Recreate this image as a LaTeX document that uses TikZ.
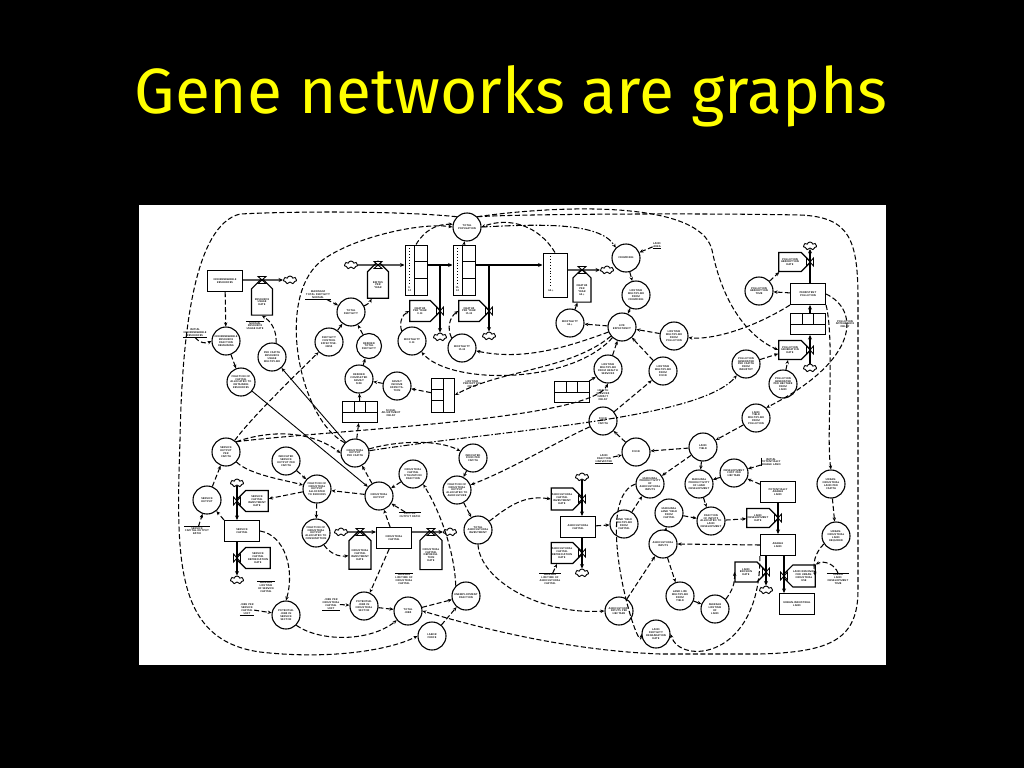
\documentclass[tikz,border=0pt]{standalone}
\usepackage{fontspec}
\newfontfamily\titlefont{Fira Sans}
\usetikzlibrary{shapes.symbols,arrows.meta,calc}
\begin{document}
\begin{tikzpicture}[x=1pt,y=-1pt,
  every node/.style={font=\fontsize{2.6}{2.9}\selectfont\sffamily\bfseries, align=center, inner sep=0.4pt},
  cv/.style={circle, draw, line width=1.1pt, minimum size=28pt, fill=white},
  lv/.style={rectangle, draw, line width=1.1pt, minimum width=35pt, minimum height=21pt, fill=white},
  rte/.style={signal, signal to=east, draw, line width=1.1pt, minimum width=33pt, minimum height=21pt, fill=white},
  rtw/.style={signal, signal to=west, draw, line width=1.1pt, minimum width=33pt, minimum height=21pt, fill=white},
  rtn/.style={signal, signal to=north, draw, line width=1.1pt, minimum width=21pt, minimum height=34pt, fill=white},
  cl/.style={cloud, cloud puffs=7, aspect=1.6, draw, line width=0.9pt, minimum width=13pt, minimum height=8pt, inner sep=0pt, fill=white},
  dl/.style={rectangle, draw, line width=1pt, minimum width=35pt, minimum height=21pt, fill=white, inner sep=0pt,
    path picture={
      \draw[line width=0.9pt] (path picture bounding box.west) -- (path picture bounding box.east);
      \draw[line width=0.9pt] ([xshift=-5.8pt]path picture bounding box.north) -- ([xshift=-5.8pt]path picture bounding box.center);
      \draw[line width=0.9pt] ([xshift=5.8pt]path picture bounding box.north) -- ([xshift=5.8pt]path picture bounding box.center);}},
  pl/.style={rectangle, draw, line width=1pt, minimum width=22pt, minimum height=50pt, fill=white, inner sep=0pt,
    path picture={
      \draw[line width=0.9pt] ([xshift=9pt]path picture bounding box.north west) -- ([xshift=9pt]path picture bounding box.south west);
      \draw[line width=0.9pt] ([xshift=9pt,yshift=-16.7pt]path picture bounding box.north west) -- ([yshift=-16.7pt]path picture bounding box.north east);
      \draw[line width=0.9pt] ([xshift=9pt,yshift=-33.3pt]path picture bounding box.north west) -- ([yshift=-33.3pt]path picture bounding box.north east);
      \draw[dotted, line width=0.9pt] ([xshift=4.5pt,yshift=-3pt]path picture bounding box.north west) -- ([xshift=4.5pt,yshift=11pt]path picture bounding box.south west);}},
  plt/.style={rectangle, draw, line width=1pt, minimum width=24pt, minimum height=44pt, fill=white, inner sep=0pt,
    path picture={
      \draw[dotted, line width=0.9pt] ([xshift=7pt,yshift=-3pt]path picture bounding box.north west) -- ([xshift=7pt,yshift=10pt]path picture bounding box.south west);}},
  lpdb/.style={rectangle, draw, line width=1pt, minimum width=23pt, minimum height=34pt, fill=white, inner sep=0pt,
    path picture={
      \draw[line width=0.9pt] (path picture bounding box.north) -- (path picture bounding box.south);
      \draw[line width=0.9pt] ([yshift=-11.3pt]path picture bounding box.north west) -- ([yshift=-11.3pt]path picture bounding box.north);
      \draw[line width=0.9pt] ([yshift=-22.7pt]path picture bounding box.north west) -- ([yshift=-22.7pt]path picture bounding box.north);}},
  dep/.style={draw, line width=1.05pt, dash pattern=on 5pt off 2.5pt, -{Stealth[length=4pt,width=3.4pt]}},
  ddep/.style={dep, dash pattern=on 6pt off 2pt on 1.5pt off 2pt},
  sdep/.style={draw, line width=0.9pt, -{Stealth[length=4pt,width=3.4pt]}},
  flow/.style={draw, line width=1.2pt, -{Stealth[length=4.5pt,width=4pt]}},
  uline/.style={draw, line width=0.6pt},
  vv/.pic={\draw[line width=0.9pt, fill=white] (-3.5,-4) -- (3.5,4) -- (3.5,-4) -- (-3.5,4) -- cycle;},
  vh/.pic={\draw[line width=0.9pt, fill=white] (-4,-3.5) -- (4,3.5) -- (-4,3.5) -- (4,-3.5) -- cycle;}
]
\useasboundingbox (0,0) rectangle (1024,768);
\fill[black] (0,0) rectangle (1024,768);
\fill[white] (139,205) rectangle (886,665);
\node[font=\titlefont\fontsize{64}{68}\selectfont, text={rgb,255:red,255;green,255;blue,0}, anchor=base, inner sep=0pt] (title) at (511,113) {Gene networks are graphs};

% ---------- resources
\node[lv] (nr) at (225,281) {NONRENEWABLE\\RESOURCES};
\node[rtn] (nrur) at (262,302) {RESOURCE\\USAGE\\RATE};
\node[cl] (cl1) at (290,280) {};
\node (t1) at (255,326) {NORMAL\\RESOURCE\\USAGE RATE};
\node (t2) at (195,333) {INITIAL\\NONRENEWABLE\\RESOURCES};
\node[cv] (c1) at (226,341) {NONRENEWABLE\\RESOURCE\\FRACTION\\REMAINING};
\node[cv] (c2) at (241,382) {FRACTION OF\\CAPITAL\\ALLOCATED TO\\OBTAINING\\RESOURCES};
\node[cv] (c3) at (272,357) {PER CAPITA\\RESOURCE\\USAGE\\MULTIPLIER};

% ---------- population
\node[cl] (clb) at (351,265) {};
\node[rtn, minimum height=32pt] (br) at (378,285) {BIRTHS\\PER\\YEAR};
\node[pl] (p1) at (416,270) {};
\node[pl] (p2) at (464,270) {};
\node[plt] (p3) at (555,275) {};
\node (tp1) at (409.5,289) {0-\\14};
\node (tp2) at (457.5,289) {15-\\44};
\node (tp3) at (551,291) {65+};
\coordinate (j1) at (440,265);
\coordinate (j2) at (489,265);
\node[rte, minimum width=31pt] (dr1) at (420,311) {DEATHS\\PER YEAR\\0-14};
\node[rte, minimum width=31pt] (dr2) at (469,311) {DEATHS\\PER YEAR\\15-44};
\node[cl] (cld1) at (440,337) {};
\node[cl] (cld2) at (489,336) {};
\node[rtn, minimum width=18pt, minimum height=30pt] (dr3) at (582,290) {DEATHS\\PER\\YEAR\\65+};
\node[cl] (cld3) at (607,270) {};
\node (t3) at (318,295) {MAXIMUM\\TOTAL FERTILITY\\NORMAL};
\node[cv] (c4) at (351,312) {TOTAL\\FERTILITY};
\node[cv] (c5) at (329,342) {FERTILITY\\CONTROL\\EFFECTIVE-\\NESS};
\node[cv, minimum size=25pt] (c6) at (369,346) {DESIRED\\TOTAL\\FERTILITY};
\node[cv] (c7) at (359,379) {DESIRED\\COMPLETED\\FAMILY\\SIZE};
\node[cv] (c8) at (397,386) {FAMILY\\INCOME\\EXPECTA-\\TION};
\node[dl] (sad) at (360,412) {};
\node (t4) at (391,413) {SOCIAL\\ADJUSTMENT\\DELAY};
\node[cv] (c9) at (412,341) {MORTALITY\\0-14};
\node[cv] (c10) at (462,348) {MORTALITY\\15-44};
\node[cv] (c11) at (570,323) {MORTALITY\\65+};
\node[cv] (c12) at (467,227) {TOTAL\\POPULATION};
\node[cv] (c13) at (626,258) {CROWDING};
\node (t5) at (657,245) {LAND\\AREA};
\node[cv] (c14) at (636,295) {LIFETIME\\MULTIPLIER\\FROM\\CROWDING};
\node[cv] (c15) at (622,327) {LIFE\\EXPECTANCY};
\node[cv] (c16) at (674,336) {LIFETIME\\MULTIPLIER\\FROM\\POLLUTION};
\node[cv] (c17) at (663,371) {LIFETIME\\MULTIPLIER\\FROM\\FOOD};
\node[cv] (c18) at (608,369) {LIFETIME\\MULTIPLIER\\FROM HEALTH\\SERVICES};
\node[dl] (hsd) at (572,392) {};
\node (t6) at (603,395) {HEALTH\\SERVICES\\IMPACT\\DELAY};
\node[lpdb] (lpd) at (443,395) {};
\node (t7) at (472,384) {LIFETIME\\PERCEPTION\\DELAY};
\node[cv] (c20) at (603,421) {FOOD\\PER\\CAPITA};

% ---------- pollution
\node[cl] (clp1) at (810,246) {};
\node[rte, minimum width=32pt, minimum height=19pt] (pr1) at (790,262) {POLLUTION\\ABSORPTION\\RATE};
\node[cv] (c21) at (759,291) {POLLUTION\\ABSORPTION\\TIME};
\node[lv] (pol) at (808,294) {PERSISTENT\\POLLUTION};
\node[dl] (pad) at (808,324) {};
\node (t8) at (845,324) {POLLUTION\\APPEARANCE\\DELAY};
\node[rte, minimum width=32pt, minimum height=19pt] (pr2) at (790,350) {POLLUTION\\GENERATION\\RATE};
\node[cl] (clp2) at (810,368) {};
\node[cv] (c22) at (746,364) {POLLUTION\\GENERATED\\PER CAPITA\\FROM\\INDUSTRY};
\node[cv] (c23) at (783,384) {POLLUTION\\GENERATED\\PER HECTARE\\FROM\\LAND};
\node[cv] (c24) at (756,418) {LAND\\YIELD\\MULTIPLIER\\FROM\\POLLUTION};

% ---------- capital
\node[cv] (c25) at (226,452) {SERVICE\\OUTPUT\\PER\\CAPITA};
\node[cv] (c26) at (286,461) {INDICATED\\SERVICE\\OUTPUT PER\\CAPITA};
\node[cv] (c27) at (355,453) {INDUSTRIAL\\OUTPUT\\PER CAPITA};
\node[cv] (c28) at (317,489) {FRACTION OF\\INDUSTRIAL\\OUTPUT\\ALLOCATED\\TO SERVICES};
\node[cv] (c29) at (379,496) {INDUSTRIAL\\OUTPUT};
\node[cv] (c30) at (207,500) {SERVICE\\OUTPUT};
\node (t9) at (197,531) {SERVICE\\CAPITAL-OUTPUT\\RATIO};
\node[cl] (cls1) at (237,483) {};
\node[rtw] (sci) at (257,501) {SERVICE\\CAPITAL\\INVESTMENT\\RATE};
\node[lv] (sc) at (242,531) {SERVICE\\CAPITAL};
\node[rtw, minimum width=35pt] (scd) at (258,558) {SERVICE\\CAPITAL\\DEPRECIATION\\RATE};
\node[cl] (cls2) at (237,580) {};
\node (t10) at (266,587) {AVERAGE\\LIFETIME\\OF SERVICE\\CAPITAL};
\node (t11) at (247,609) {JOBS PER\\SERVICE\\CAPITAL\\UNIT};
\node[cv] (c31) at (286,615) {POTENTIAL\\JOBS IN\\SERVICE\\SECTOR};
\node[cv] (c32) at (316,533) {FRACTION OF\\INDUSTRIAL\\OUTPUT\\ALLOCATED TO\\CONSUMPTION};
\node[cl] (cli) at (341,532) {};
\node[rtn, minimum width=22pt, minimum height=38pt] (ici) at (360,555) {INDUSTRIAL\\CAPITAL\\INVESTMENT\\RATE};
\node[lv] (ic) at (394,538) {INDUSTRIAL\\CAPITAL};
\node[rtn, minimum width=22pt, minimum height=38pt] (icd) at (431,555) {INDUSTRIAL\\CAPITAL\\DEPRECIA-\\TION\\RATE};
\node[cl] (cli2) at (450,532) {};
\node (t12) at (404,579) {AVERAGE\\LIFETIME OF\\INDUSTRIAL\\CAPITAL};
\node (t13) at (331,604) {JOBS PER\\INDUSTRIAL\\CAPITAL\\UNIT};
\node[cv] (c33) at (364,606) {POTENTIAL\\JOBS IN\\INDUSTRIAL\\SECTOR};
\node[cv] (c34) at (408,611) {TOTAL\\JOBS};
\node[cv] (c35) at (432,636) {LABOR\\FORCE};
\node[cv] (c36) at (466,596) {UNEMPLOYMENT\\FRACTION};
\node[cv] (c37) at (413,474) {INDUSTRIAL\\CAPITAL\\UTILIZATION\\FRACTION};
\node (t14) at (410,515) {CAPITAL-\\OUTPUT RATIO};
\node[cv] (c38) at (473,458) {INDICATED\\FOOD PER\\CAPITA};
\node[cv] (c39) at (457,490) {FRACTION OF\\INDUSTRIAL\\OUTPUT\\ALLOCATED TO\\AGRICULTURE};
\node[cv] (c40) at (478,530) {TOTAL\\AGRICULTURAL\\INVESTMENT};

% ---------- agriculture
\node[cl] (cla1) at (582,477) {};
\node[rte, minimum width=32pt, minimum height=22pt] (aci) at (562,499) {AGRICULTURAL\\CAPITAL\\INVESTMENT\\RATE};
\node[lv] (ac) at (578,527) {AGRICULTURAL\\CAPITAL};
\node[rte, minimum width=32pt] (acd) at (562,553) {AGRICULTURAL\\CAPITAL\\DEPRECIATION\\RATE};
\node[cl] (cla2) at (582,573) {};
\node (t15) at (550,579) {AVERAGE\\LIFETIME OF\\AGRICULTURAL\\CAPITAL};
\node[cv] (c41) at (624,524) {LAND YIELD\\MULTIPLIER\\FROM\\CAPITAL};
\node[cv] (c42) at (619,611) {AGRICULTURAL\\INPUTS PER\\HECTARE};
\node (t16) at (604,459) {LAND\\FRACTION\\HARVESTED};
\node[cv] (c19) at (636,452) {FOOD};

% ---------- land
\node[cv] (c43) at (703,447) {LAND\\YIELD};
\node[cv] (c44) at (650,484) {MARGINAL\\PRODUCTIVITY\\OF\\AGRICULTURAL\\INPUTS};
\node[cv] (c45) at (699,484) {MARGINAL\\PRODUCTIVITY\\OF LAND\\DEVELOPMENT};
\node[cv] (c46) at (734,473) {DEVELOPMENT\\COST PER\\HECTARE};
\node (t17) at (771,462) {INITIAL\\POTENTIALLY\\ARABLE LAND};
\node[lv] (pal) at (778,492) {POTENTIALLY\\ARABLE\\LAND};
\node[cv] (c47) at (669,513) {MARGINAL\\LAND YIELD\\FROM\\CAPITAL};
\node[cv] (c48) at (711,521) {FRACTION\\OF INPUTS\\ALLOCATED TO\\LAND\\DEVELOPMENT};
\node[rte, minimum width=32pt, minimum height=19pt] (ldr) at (758,518) {LAND\\DEVELOPMENT\\RATE};
\node[lv] (al) at (778,545) {ARABLE\\LAND};
\node[cv] (c49) at (663,544) {AGRICULTURAL\\INPUTS};
\node[rte, minimum width=32pt, minimum height=20pt] (ler) at (746,572) {LAND\\EROSION\\RATE};
\node[cl] (cll) at (766,590) {};
\node[rtw, minimum width=33pt, minimum height=22pt] (lrur) at (804,576) {LAND REMOVAL\\FOR URBAN-\\INDUSTRIAL\\USE};
\node[lv] (uil) at (797,604) {URBAN-INDUSTRIAL\\LAND};
\node[cv] (c50) at (831,484) {URBAN-\\INDUSTRIAL\\LAND PER\\CAPITA};
\node[cv] (c51) at (836,536) {URBAN-\\INDUSTRIAL\\LAND\\REQUIRED};
\node (t18) at (838,579) {URBAN\\LAND\\DEVELOPMENT\\TIME};
\node[cv] (c52) at (680,596) {LAND LIFE\\MULTIPLIER\\FROM\\YIELD};
\node[cv] (c53) at (715,609) {AVERAGE\\LIFETIME\\OF\\LAND};
\node[cv] (c54) at (656,634) {LAND\\FERTILITY\\DEGRADATION\\RATE};

% ---------- text rules
\draw[uline] (t1.north west) -- (t1.north east);
\draw[uline] (t2.south west) -- (t2.south east);
\draw[uline] (t3.south west) -- (t3.south east);
\draw[uline] (t5.south west) -- (t5.south east);
\draw[uline] (t9.north west) -- (t9.north east);
\draw[uline] (t10.north west) -- (t10.north east);
\draw[uline] (t11.south west) -- (t11.south east);
\draw[uline] (t12.north west) -- (t12.north east);
\draw[uline] (t13.south west) -- (t13.south east);
\draw[uline] (t14.north west) -- (t14.north east);
\draw[uline] (t15.north west) -- (t15.north east);
\draw[uline] (t16.south west) -- (t16.south east);
\draw[uline] (t17.north west) -- (t17.south west);
\draw[uline] (t18.north west) -- (t18.north east);

% ---------- flows
\draw[flow] (nr.east |- cl1) -- (cl1);
\draw[flow] (clb) -- (p1.west |- clb);
\draw[flow] (p1.east |- clb) -- (p2.west |- clb);
\draw[flow] (p2.east |- clb) -- (p3.west |- clb);
\draw[flow] (p3.east |- cld3) -- (cld3);
\draw[flow] (j1) -- (cld1);
\draw[flow] (j2) -- (cld2);
\draw[flow] (clp2) -- (clp2 |- pad.south);
\draw[flow] (clp2 |- pad.north) -- (clp2 |- pol.south);
\draw[flow] (clp2 |- pol.north) -- (clp1);
\draw[flow] (cls1) -- (cls1 |- sc.north);
\draw[flow] (cls2 |- sc.south) -- (cls2);
\draw[flow] (cli) -- (ic.west |- cli);
\draw[flow] (ic.east |- cli) -- (cli2);
\draw[flow] (cla1) -- (cla1 |- ac.north);
\draw[flow] (cla2 |- ac.south) -- (cla2);
\draw[flow] (pal) -- (al);
\draw[flow] ([xshift=-12pt]al.south) -- (cll);
\draw[flow] ([xshift=6pt]al.south) -- ([xshift=6pt]al.south |- uil.north);

% ---------- resources links
\draw[dep] (nr) -- (c1);
\draw[dep] (t2.south) to[bend right=40] (c1.west);
\draw[dep] (c1) -- (c2);
\draw[dep] (c3) to[bend right=30] (nrur.south);
\draw[sdep] (c2) -- (c29);
\draw[sdep] (c27) -- (c3);
\draw[dep] (c25) .. controls (250,420) and (280,390) .. (c5);

% ---------- population links
\draw[dep] (t3) -- (c4);
\draw[dep] (c5) -- (c4);
\draw[dep] (c6) -- (c4);
\draw[dep] (c7) -- (c6);
\draw[dep] (c8) -- (c7);
\draw[dep] (sad) -- (c7);
\draw[dep] (c27) -- (sad);
\draw[dep] (c4) to[bend right=20] (br);
\draw[dep] (c9) to[bend left=40] (dr1.west);
\draw[dep] (c10) to[bend left=40] (dr2.west);
\draw[dep] (c11) -- (dr3);
\draw[dep] (c15) -- (c11);
\draw[dep] (c15) .. controls (560,350) and (520,360) .. (c10);
\draw[dep] (c15) .. controls (570,385) and (450,385) .. (c9);
\draw[dep] (c15) .. controls (570,370) and (500,370) .. (lpd.east);
\draw[dep] (lpd) -- (c8);
\draw[dep] (c13) -- (c14);
\draw[dep] (c14) -- (c15);
\draw[dep] (c16) -- (c15);
\draw[dep] (c17) -- (c15);
\draw[dep] (c18) -- (c15);
\draw[dep] (hsd) -- (c18);
\draw[dep] (c20) -- (c17);
\draw[dep] (t5) -- (c13);
\draw[dep] (p1.north) to[bend left=30] (c12);
\draw[dep] (p2.north) -- (c12);
\draw[dep] (p3.north) to[bend right=40] (c12.east);
\draw[ddep] (c12.east) .. controls (540,224) and (600,222) .. (c13.north west);
\draw[dep] (c27.north west) .. controls (300,420) and (275,300) .. (320,262) .. controls (350,238) and (420,222) .. (c12.west);
\draw[dep] (c25.north east) .. controls (330,430) and (590,420) .. (c18.south);

% ---------- outer loops
\draw[dep] (c12.north west) .. controls (400,211) and (300,211) .. (240,214) .. controls (195,225) and (182,330) .. (180,440) .. controls (176,560) and (175,640) .. (260,652) .. controls (330,660) and (390,650) .. (c35.west);
\draw[dep] (c12.north east) .. controls (520,214) and (700,213) .. (800,215) .. controls (850,217) and (858,240) .. (858,300) -- (858,590) .. controls (858,640) and (830,652) .. (760,654) -- (660,654) .. controls (560,650) and (470,625) .. (c34.east);
\draw[dep] (c12.north east) .. controls (560,205) and (700,200) .. (712,250) .. controls (722,300) and (745,335) .. (pr2.west);

% ---------- pollution links
\draw[dep] (pol) -- (c21);
\draw[dep] (c21) -- (pr1);
\draw[dep] (c22) -- (pr2);
\draw[dep] (c23) -- (pr2);
\draw[dep] (pol.south west) .. controls (750,330) and (710,340) .. (c16);
\draw[dep] (pol.east) .. controls (860,310) and (860,360) .. (c24.north east);
\draw[dep] (pol.south east) .. controls (835,340) and (826,440) .. (c50.north);
\draw[dep] (c24) -- (c43);
\draw[ddep] (c27) .. controls (500,430) and (700,420) .. (c22);

% ---------- capital links
\draw[dep] (c30) -- (c25);
\draw[dep] (t9) -- (c30);
\draw[dep] (sc.north west) -- (c30);
\draw[dep] (c26) -- (c28);
\draw[dep] (c25) .. controls (250,475) and (285,480) .. (c28);
\draw[dep] (c28) -- (sci);
\draw[dep] (c25.north east) .. controls (270,430) and (310,430) .. (c27.west);
\draw[dep] (c29) -- (c27);
\draw[dep] (c29) -- (c28);
\draw[dep] (ic) -- (c29);
\draw[dep] (c37) -- (c29);
\draw[dep] (t14) -- (c29);
\draw[dep] (c28) -- (c32);
\draw[dep] (c32) to[bend right=30] (ici);
\draw[dep] (sc.east) .. controls (285,535) and (295,570) .. (c31.north);
\draw[dep] (t11) -- (c31);
\draw[dep] (c31.south east) .. controls (320,642) and (370,642) .. (c34);
\draw[dep] (t13) -- (c33);
\draw[dep] (ic) -- (c33);
\draw[dep] (c33) -- (c34);
\draw[dep] (c34) -- (c36);
\draw[dep] (c35) -- (c36);
\draw[dep] (c36.north west) .. controls (455,560) and (445,520) .. (c37.south east);
\draw[dep] (c27) .. controls (400,440) and (440,440) .. (c38);
\draw[dep] (c38) -- (c39);
\draw[dep] (c20) .. controls (560,440) and (510,470) .. (c39);
\draw[dep] (c39) -- (c40);
\draw[dep] (c40) .. controls (510,505) and (525,495) .. (aci.west);
\draw[dep] (c40.south) .. controls (480,580) and (540,615) .. (c42.west);

% ---------- agriculture & land links
\draw[dep] (ac) -- (c41);
\draw[dep] (t15) -- (acd);
\draw[dep] (c41) -- (c44);
\draw[dep] (c43) -- (c19);
\draw[dep] (c19) -- (c20);
\draw[dep] (t16) -- (c19);
\draw[dep] (c43) -- (c44);
\draw[dep] (c43) -- (c45);
\draw[dep] (c46) -- (c45);
\draw[dep] (pal) -- (c46);
\draw[dep] (t17) -- (c46);
\draw[dep] (c47) -- (c48);
\draw[dep] (c45) -- (c48);
\draw[dep] (c48) -- (ldr);
\draw[dep] (al.west) -- (c49.east);
\draw[dep] (c49) -- (c47);
\draw[dep] (c42) -- (c49);
\draw[dep] (c49) -- (c52);
\draw[dep] (c52) -- (c53);
\draw[dep] (c53) to[bend right=20] (ler.west);
\draw[dep] (c50) -- (c51);
\draw[dep] (c51) to[bend right=30] (lrur.east);
\draw[dep] (t18.north) to[bend right=50] (lrur.north east);
\draw[dep] (al.south west) .. controls (760,660) and (680,665) .. (c54.east);
\draw[dep] (c44.west) .. controls (590,500) and (640,660) .. (c54.west);

% ---------- valves
\pic at (262,280) {vh};
\pic at (378,265) {vh};
\pic at (440,311) {vv};
\pic at (489,311) {vv};
\pic at (582,270) {vh};
\pic at (810,262) {vv};
\pic at (810,350) {vv};
\pic at (237,501) {vv};
\pic at (237,558) {vv};
\pic at (360,532) {vh};
\pic at (431,532) {vh};
\pic at (582,499) {vv};
\pic at (582,553) {vv};
\pic at (778,518) {vv};
\pic at (766,572) {vv};
\pic at (784,576) {vv};
\end{tikzpicture}
\end{document}
